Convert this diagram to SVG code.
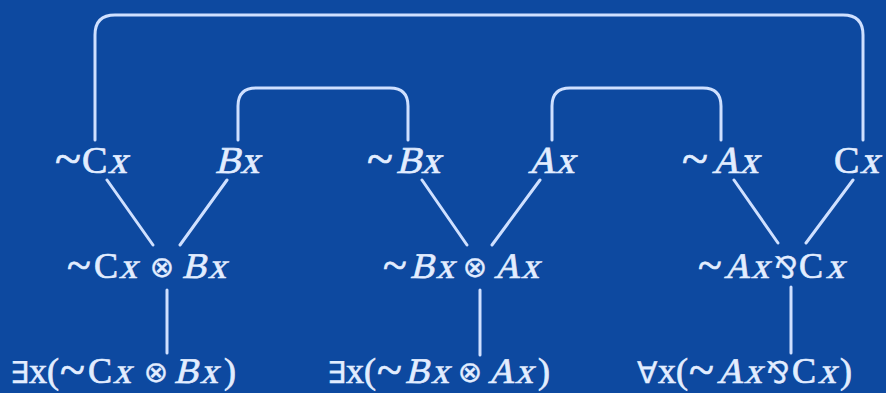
<svg xmlns="http://www.w3.org/2000/svg" width="886" height="393" viewBox="0 0 886 393">
<style>
.bg{fill:#0d49a0}
.c{fill:none;stroke:#cfe0ff;stroke-width:3;stroke-linecap:round}
text{fill:#e2edff;stroke:#e2edff;stroke-width:0.7px}
.s{stroke-width:0.3px}
</style>
<rect class="bg" x="0" y="0" width="886" height="393"/>
<g id="connectors">
<path class="c" d="M95,140 V35 Q95,15 115,15 H843 Q863,15 863,35 V140"/>
<path class="c" d="M238,140 V106 Q238,88 256,88 H390 Q408,88 408,106 V140"/>
<path class="c" d="M552,140 V106 Q552,88 570,88 H703 Q721,88 721,106 V140"/>
<path class="c" d="M107,180 L153,245 M227,180 L180,245 M167,290 V353"/>
<path class="c" d="M422,180 L467,245 M540,180 L492,245 M480,290 V355"/>
<path class="c" d="M734,180 L778,243 M853,180 L806,243 M791,287 V353"/>
</g>
<g id="n-notCx" font-family="Liberation Serif" font-size="38">
<text x="55" y="175" font-size="48">~</text><text x="82" y="173">C</text><text transform="translate(108,173) skewX(-14)">x</text>
</g>
<g id="n-Bx" font-family="Liberation Serif" font-size="38">
<text transform="translate(215,173) skewX(-14)">Bx</text>
</g>
<g id="n-notBx" font-family="Liberation Serif" font-size="38">
<text x="367" y="175" font-size="48">~</text><text transform="translate(396,173) skewX(-14)">Bx</text>
</g>
<g id="n-Ax" font-family="Liberation Serif" font-size="38">
<text transform="translate(528,173) skewX(-14)">Ax</text>
</g>
<g id="n-notAx" font-family="Liberation Serif" font-size="38">
<text x="682" y="175" font-size="48">~</text><text transform="translate(712,173) skewX(-14)">Ax</text>
</g>
<g id="n-Cx" font-family="Liberation Serif" font-size="38">
<text x="834" y="173">C</text><text transform="translate(860,173) skewX(-14)">x</text>
</g>
<g id="n-tensor1" font-family="Liberation Serif" font-size="36">
<text x="67" y="280" font-size="44">~</text><text x="94" y="278">C</text><text transform="translate(119,278) skewX(-14)">x</text>
<text class="s" x="162" y="277" font-family="DejaVu Sans" font-size="29" text-anchor="middle">⊗</text>
<text transform="translate(182,278) skewX(-14)">B</text><text transform="translate(208,278) skewX(-14)">x</text>
</g>
<g id="n-tensor2" font-family="Liberation Serif" font-size="36">
<text x="383" y="280" font-size="44">~</text><text transform="translate(410,278) skewX(-14)">B</text><text transform="translate(436,278) skewX(-14)">x</text>
<text class="s" x="475" y="277" font-family="DejaVu Sans" font-size="29" text-anchor="middle">⊗</text>
<text transform="translate(494,278) skewX(-14)">A</text><text transform="translate(521,278) skewX(-14)">x</text>
</g>
<g id="n-par" font-family="Liberation Serif" font-size="36">
<text x="698" y="280" font-size="44">~</text><text transform="translate(724,278) skewX(-14)">A</text><text transform="translate(751,278) skewX(-14)">x</text>
<text class="s" x="786" y="278" font-family="DejaVu Sans" font-size="30" text-anchor="middle">⅋</text>
<text x="799" y="278">C</text><text transform="translate(826,278) skewX(-14)">x</text>
</g>
<g id="n-ex1" font-family="Liberation Serif" font-size="36">
<text class="s" x="10" y="383" font-family="DejaVu Sans" font-size="30">∃</text>
<text x="29" y="383">x(</text><text x="60" y="385" font-size="46">~</text><text x="88" y="383">C</text><text transform="translate(113,383) skewX(-14)">x</text>
<text class="s" x="156" y="382" font-family="DejaVu Sans" font-size="29" text-anchor="middle">⊗</text>
<text transform="translate(174,383) skewX(-14)">B</text><text transform="translate(200,383) skewX(-14)">x</text><text x="224" y="383">)</text>
</g>
<g id="n-ex2" font-family="Liberation Serif" font-size="36">
<text class="s" x="327" y="383" font-family="DejaVu Sans" font-size="30">∃</text>
<text x="346" y="383">x(</text><text x="377" y="385" font-size="46">~</text><text transform="translate(405,383) skewX(-14)">B</text><text transform="translate(431,383) skewX(-14)">x</text>
<text class="s" x="470" y="382" font-family="DejaVu Sans" font-size="29" text-anchor="middle">⊗</text>
<text transform="translate(488,383) skewX(-14)">A</text><text transform="translate(515,383) skewX(-14)">x</text><text x="538" y="383">)</text>
</g>
<g id="n-all" font-family="Liberation Serif" font-size="36">
<text class="s" x="637" y="383" font-family="DejaVu Sans" font-size="30">∀</text>
<text x="658" y="383">x(</text><text x="689" y="385" font-size="46">~</text><text transform="translate(717,383) skewX(-14)">A</text><text transform="translate(744,383) skewX(-14)">x</text>
<text class="s" x="778" y="383" font-family="DejaVu Sans" font-size="30" text-anchor="middle">⅋</text>
<text x="792" y="383">C</text><text transform="translate(818,383) skewX(-14)">x</text><text x="840" y="383">)</text>
</g>
</svg>
